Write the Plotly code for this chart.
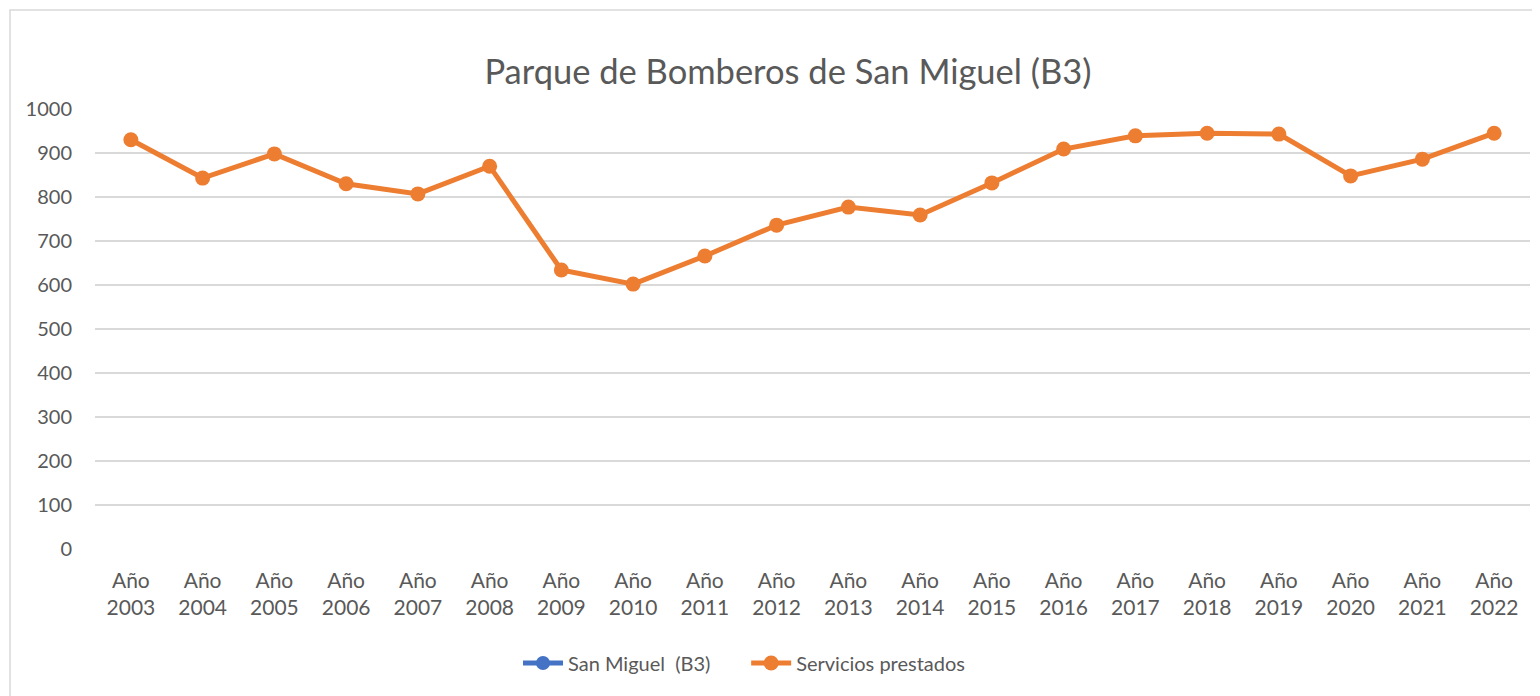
import plotly.graph_objects as go

years = ["2003", "2004", "2005", "2006", "2007", "2008", "2009", "2010", "2011", "2012",
         "2013", "2014", "2015", "2016", "2017", "2018", "2019", "2020", "2021", "2022"]
categories = ["Año<br>" + y for y in years]
servicios = [930, 843, 898, 830, 807, 870, 634, 602, 666, 736,
             777, 759, 832, 909, 939, 945, 943, 848, 886, 945]
san_miguel = [None] * len(years)
y_ticks = [0, 100, 200, 300, 400, 500, 600, 700, 800, 900, 1000]

FONT = "Lato"
TXT = "#595959"
OFF = 8  # page body margin offset

fig = go.Figure()
fig.add_trace(go.Scatter(
    x=categories, y=san_miguel, name="San Miguel  (B3)      ", mode="lines+markers",
    line=dict(color="#4472C4", width=5), marker=dict(size=14, color="#4472C4"),
))
fig.add_trace(go.Scatter(
    x=categories, y=servicios, name="Servicios prestados", mode="lines+markers",
    line=dict(color="#ED7D31", width=5), marker=dict(size=15, color="#ED7D31"),
))

fig.update_layout(
    width=1540, height=696,
    margin=dict(l=95 - OFF, r=1540 + OFF - 1530, t=109 - OFF, b=696 + OFF - 549),
    paper_bgcolor="white", plot_bgcolor="white",
    font=dict(family=FONT, color=TXT, size=20),
    title=dict(text="Parque de Bomberos de San Miguel (B3)", x=(788 - OFF) / 1540, xanchor="center",
               y=1 - (72 - OFF) / 696, yanchor="middle", font=dict(size=34.5, color=TXT, family=FONT)),
    showlegend=True,
    legend=dict(orientation="h", x=(518 - 95) / 1435, xanchor="left", y=(549 - 663) / 440,
                yanchor="middle", font=dict(size=20, color=TXT, family=FONT), itemwidth=40),
    xaxis=dict(type="category", range=[-0.5, len(years) - 0.5], showgrid=False,
               showline=False, zeroline=False, ticks="", tickfont=dict(size=21, color=TXT),
               ticklabelstandoff=17, fixedrange=True),
    yaxis=dict(range=[0, 1000], tickvals=y_ticks, showgrid=True, gridcolor="#d9d9d9",
               gridwidth=1.5, zeroline=False, showline=False, ticks="",
               tickfont=dict(size=20, color=TXT), ticklabelstandoff=22, fixedrange=True),
    shapes=[dict(type="rect", xref="paper", yref="paper",
                 x0=(10 - 95) / 1435, x1=(1560 - 95) / 1435,
                 y0=(549 - 720) / 440, y1=(549 - 10) / 440,
                 line=dict(color="#d9d9d9", width=1.5), fillcolor="rgba(0,0,0,0)",
                 layer="below")],
)

fig.write_html("out.html")
